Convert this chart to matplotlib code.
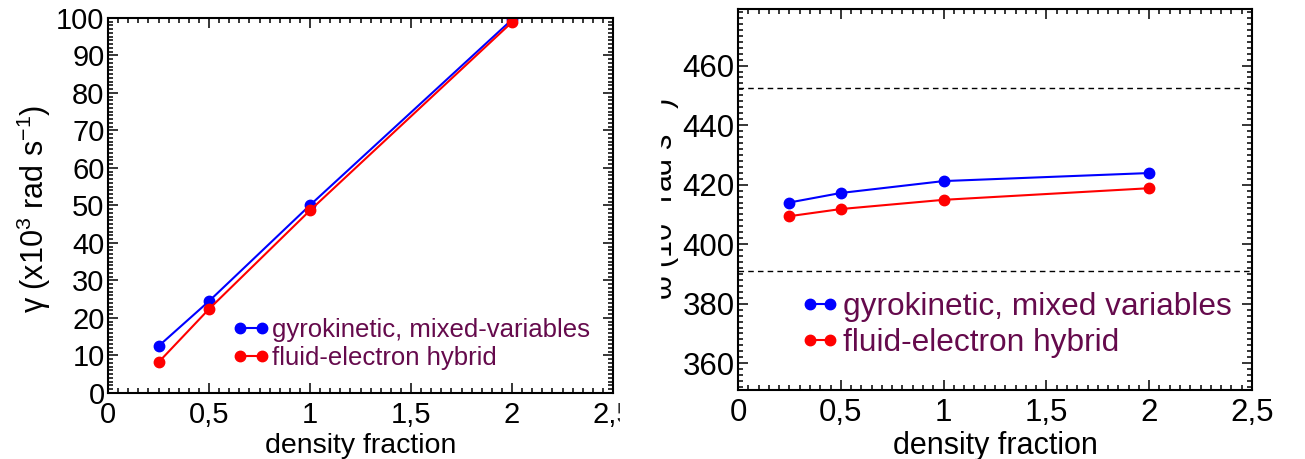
import matplotlib
matplotlib.use('Agg')
import matplotlib.pyplot as plt
from matplotlib.patches import Rectangle
from matplotlib.ticker import MultipleLocator

plt.rcParams['font.family'] = ['Liberation Sans', 'DejaVu Sans']
plt.rcParams['mathtext.fontset'] = 'custom'
plt.rcParams['mathtext.rm'] = 'Liberation Sans'
plt.rcParams['mathtext.it'] = 'Liberation Sans:italic'

# density scan
density = [0.25, 0.5, 1.0, 2.0]

# growth rate, x10^3 rad/s
gamma_gk = [12.5, 24.5, 50.1, 99.6]
gamma_fluid = [8.2, 22.4, 48.7, 98.9]

# real frequency, x10^3 rad/s
omega_gk = [414.0, 417.2, 421.2, 423.9]
omega_fluid = [409.4, 411.8, 414.9, 418.8]
omega_bounds = [452.6, 391.0]

x_ticks = [0, 0.5, 1, 1.5, 2, 2.5]
x_tick_labels = ['0', '0,5', '1', '1,5', '2', '2,5']

label_gk_left = 'gyrokinetic, mixed-variables'
label_gk_right = 'gyrokinetic, mixed variables'
label_fluid = 'fluid-electron hybrid'

text_col = '#650a4c'

fig = plt.figure(figsize=(13.05, 4.59), dpi=100)
ax1 = fig.add_axes([0.0828, 0.1438, 0.387, 0.817])
ax2 = fig.add_axes([0.5655, 0.1503, 0.3939, 0.830])


def style_axis(ax, fs, ymajor, yminor):
    ax.set_xlim(0, 2.5)
    ax.set_xticks(x_ticks)
    ax.set_xticklabels(x_tick_labels)
    ax.xaxis.set_minor_locator(MultipleLocator(0.05))
    ax.yaxis.set_major_locator(MultipleLocator(ymajor))
    ax.yaxis.set_minor_locator(MultipleLocator(yminor))
    ax.tick_params(which='both', direction='in', top=True, right=True,
                   width=1.1, labelsize=fs)
    ax.tick_params(which='major', length=7.5)
    ax.tick_params(which='minor', length=3.8)
    ax.tick_params(axis='x', pad=6)
    ax.tick_params(axis='y', pad=2.5)
    for sp in ax.spines.values():
        sp.set_linewidth(1.5)


# left: growth rate
ax1.plot(density, gamma_gk, '-o', color='#0000ff', lw=1.5, ms=7.5,
         label=label_gk_left)
ax1.plot(density, gamma_fluid, '-o', color='#ff0000', lw=1.5, ms=7.5,
         label=label_fluid)
ax1.set_ylim(0, 100)
style_axis(ax1, 21, 10, 1)
ax1.set_xlabel('density fraction', fontsize=20.5, labelpad=3)
ax1.set_ylabel(r'γ (x10$^{3}$ rad s$^{-1}$)', fontsize=22)
ax1.yaxis.set_label_coords(-0.11, 0.49)
leg1 = ax1.legend(loc='upper left', bbox_to_anchor=(0.2455, 0.200),
                  frameon=False, fontsize=18.5, numpoints=2,
                  handlelength=1.46, handletextpad=0.1, labelspacing=0.17,
                  borderpad=0, borderaxespad=0)
for t in leg1.get_texts():
    t.set_color(text_col)

# right: real frequency
for yb in omega_bounds:
    ax2.axhline(yb, color='black', lw=1.0, ls=(0, (4, 3)))
ax2.plot(density, omega_gk, '-o', color='#0000ff', lw=1.5, ms=7.5,
         label=label_gk_right)
ax2.plot(density, omega_fluid, '-o', color='#ff0000', lw=1.5, ms=7.5,
         label=label_fluid)
ax2.set_ylim(351, 479)
style_axis(ax2, 22.5, 20, 2)
ax2.set_xlabel('density fraction', fontsize=22, labelpad=2)
ax2.set_ylabel(r'ω (10$^{3}$ rad s$^{-1}$)', fontsize=22)
ax2.yaxis.set_label_coords(-0.109, 0.5)
leg2 = ax2.legend(loc='upper left', bbox_to_anchor=(0.1226, 0.257),
                  frameon=False, fontsize=22.8, numpoints=2,
                  handlelength=1.22, handletextpad=0.12, labelspacing=0.2,
                  borderpad=0, borderaxespad=0)
for t in leg2.get_texts():
    t.set_color(text_col)

# blank strip between the two panels
fig.patches.append(Rectangle((620 / 1305, 0), 40 / 1305, 1,
                             transform=fig.transFigure, color='white',
                             zorder=10))

fig.savefig('out.png', dpi=100)
